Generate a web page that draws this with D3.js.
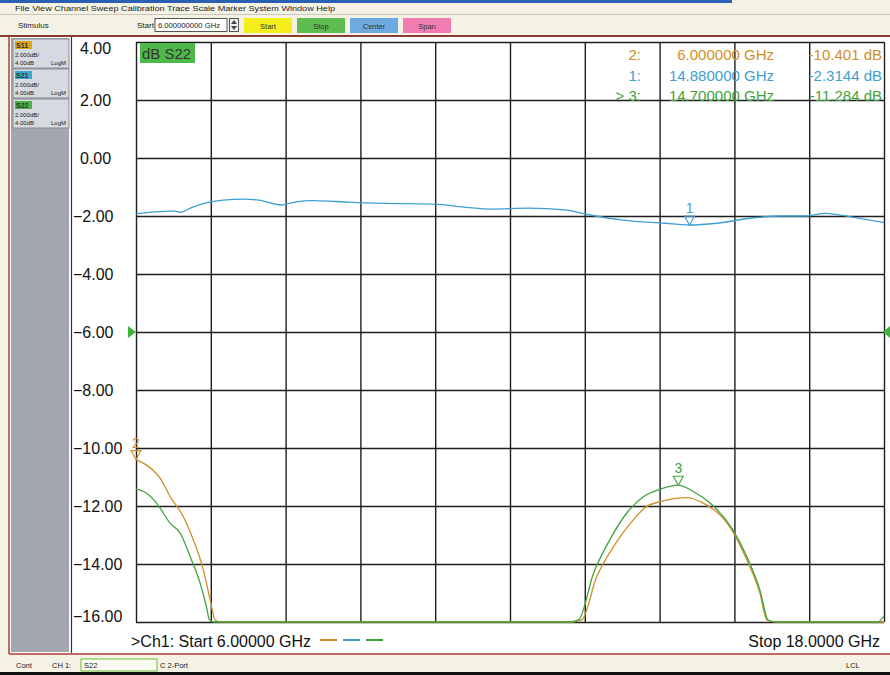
<!DOCTYPE html>
<html>
<head>
<meta charset="utf-8">
<script src="https://cdn.jsdelivr.net/npm/d3@7"></script>
<style>
  body { margin: 0; background: #f4f2e4; }
  svg { display: block; font-family: "Liberation Sans", Arial, sans-serif; }
</style>
</head>
<body>
<svg id="vna" width="890" height="675"></svg>
<script>
// frequency in GHz, level in dB
var s11 = [[6.0,-10.40],[6.17,-10.59],[6.39,-11.05],[6.55,-11.68],[6.76,-12.37],[6.92,-13.17],[7.08,-14.2],[7.19,-15.24],[7.27,-15.93],[7.36,-17.5],[8.5,-21],[10,-22],[12,-21],[13.0,-17.5],[13.15,-15.93],[13.39,-14.44],[13.66,-13.4],[13.93,-12.6],[14.19,-12.02],[14.41,-11.85],[14.83,-11.71],[15.1,-11.9],[15.56,-12.83],[15.8,-13.86],[16.01,-15.01],[16.12,-15.93],[16.25,-17.5],[17,-20],[17.9,-17],[18,-16.2]];
var s21 = [[6.0,-1.93],[6.3,-1.86],[6.63,-1.83],[6.71,-1.87],[6.9,-1.7],[7.14,-1.54],[7.4,-1.45],[7.73,-1.42],[7.97,-1.45],[8.33,-1.62],[8.55,-1.52],[8.82,-1.47],[9.2,-1.5],[9.67,-1.55],[10.2,-1.57],[10.84,-1.6],[11.3,-1.7],[11.7,-1.76],[12.29,-1.73],[12.88,-1.79],[13.22,-1.94],[13.81,-2.14],[14.49,-2.25],[14.88,-2.31],[15.32,-2.25],[15.91,-2.06],[16.35,-2.0],[16.76,-2.0],[17.05,-1.91],[17.3,-1.97],[17.52,-2.05],[18.0,-2.23]];
var s22 = [[6.0,-11.42],[6.17,-11.56],[6.33,-11.9],[6.55,-12.6],[6.71,-12.94],[6.87,-13.75],[7.03,-14.67],[7.13,-15.47],[7.18,-15.93],[7.26,-17.5],[8.5,-21],[10,-22],[12,-21],[12.95,-17.5],[13.1,-15.93],[13.34,-14.32],[13.6,-13.17],[13.87,-12.25],[14.14,-11.68],[14.41,-11.42],[14.7,-11.28],[14.94,-11.5],[15.21,-11.9],[15.56,-12.77],[15.8,-13.75],[16.01,-14.9],[16.14,-15.93],[16.27,-17.5],[17,-20],[17.9,-16.5],[18,-15.8]];

var freqGrid = [6, 7.2, 8.4, 9.6, 10.8, 12, 13.2, 14.4, 15.6, 16.8, 18];
var levelTicks = [4, 2, 0, -2, -4, -6, -8, -10, -12, -14, -16];

var traceNames = ["S11", "S21", "S22"];
var traceColors = ["#cf8f26", "#3c9fd0", "#3fa33c"];
var traceTags = ["#d9a520", "#3aa8c8", "#4cb046"];

var markerNames = ["2", "1", "3"];
var markerTrace = [0, 1, 2];
var markerFreq = [6.0, 14.88, 14.7];
var markerLevel = [-10.401, -2.3144, -11.284];

var menuItems = "File  View  Channel  Sweep  Calibration  Trace  Scale  Marker  System  Window  Help";
var buttons = ["Start", "Stop", "Center", "Span"];
var buttonColors = ["#f3ee1c", "#5fbc52", "#6ea9df", "#f07cb2"];

var svg = d3.select("#vna");

var x = d3.scaleLinear().domain([6, 18]).range([136, 884]);
var y = d3.scaleLinear().domain([-16, 4]).range([622, 42]).clamp(true);

// window chrome
svg.append("rect").attr("width", 890).attr("height", 675).attr("fill", "#f4f2e4");
svg.append("rect").attr("width", 732).attr("height", 3).attr("fill", "#2b5fb4");
svg.append("line").attr("x1", 0).attr("x2", 890).attr("y1", 14.5).attr("y2", 14.5).attr("stroke", "#c9c7b8");
svg.append("text").attr("x", 15).attr("y", 11).attr("font-size", 8).attr("fill", "#222")
	.attr("textLength", 320).attr("lengthAdjust", "spacingAndGlyphs").text(menuItems);

svg.append("text").attr("x", 18).attr("y", 28).attr("font-size", 8).attr("fill", "#222").text("Stimulus");
svg.append("text").attr("x", 137).attr("y", 28).attr("font-size", 8).attr("fill", "#222").text("Start");
svg.append("rect").attr("x", 155).attr("y", 18.5).attr("width", 72).attr("height", 13)
	.attr("fill", "#fff").attr("stroke", "#555");
svg.append("text").attr("x", 158).attr("y", 28).attr("font-size", 8).attr("fill", "#222")
	.attr("textLength", 62).attr("lengthAdjust", "spacingAndGlyphs").text("6.000000000 GHz");
svg.append("rect").attr("x", 229.5).attr("y", 18.5).attr("width", 9).attr("height", 13)
	.attr("fill", "#eee").attr("stroke", "#555");
svg.append("path").attr("d", "M231,24L234,20L237,24ZM231,26L234,30L237,26Z").attr("fill", "#444");

var btn = svg.append("g").selectAll("g").data(buttons).enter().append("g")
	.attr("transform", function(d, i) { return "translate(" + (244 + i * 53) + ",18)"; });
btn.append("rect").attr("width", 48).attr("height", 15)
	.attr("fill", function(d, i) { return buttonColors[i]; });
btn.append("text").attr("x", 24).attr("y", 10.5).attr("text-anchor", "middle")
	.attr("font-size", 7.5).attr("fill", "#333").text(function(d) { return d; });

svg.append("rect").attr("x", 0).attr("y", 35).attr("width", 890).attr("height", 2).attr("fill", "#8a3a32");

// main white area and frame
svg.append("rect").attr("x", 9).attr("y", 37).attr("width", 881).attr("height", 617).attr("fill", "#fff");
svg.append("line").attr("x1", 9).attr("x2", 9).attr("y1", 37).attr("y2", 654).attr("stroke", "#b23a36").attr("stroke-width", 1.5);
svg.append("line").attr("x1", 9).attr("x2", 890).attr("y1", 654).attr("y2", 654).attr("stroke", "#b23a36").attr("stroke-width", 1.5);

// left trace panel
svg.append("rect").attr("x", 11).attr("y", 38).attr("width", 58).attr("height", 614).attr("fill", "#a2a6ae");
svg.append("line").attr("x1", 71.5).attr("x2", 71.5).attr("y1", 37).attr("y2", 653).attr("stroke", "#333").attr("stroke-width", 1.2);

var tag = svg.append("g").selectAll("g").data(traceNames).enter().append("g")
	.attr("transform", function(d, i) { return "translate(13," + (39 + i * 30) + ")"; });
tag.append("rect").attr("width", 56).attr("height", 29).attr("fill", "#d6d9df").attr("stroke", "#8a8d94");
tag.append("rect").attr("x", 2).attr("y", 2).attr("width", 17).attr("height", 8)
	.attr("fill", function(d, i) { return traceTags[i]; });
tag.append("text").attr("x", 3).attr("y", 9).attr("font-size", 7).attr("font-weight", "bold")
	.attr("fill", "#333").text(function(d) { return d; });
tag.append("text").attr("x", 2).attr("y", 18).attr("font-size", 6).attr("fill", "#222").text("2.000dB/");
tag.append("text").attr("x", 2).attr("y", 26).attr("font-size", 6).attr("fill", "#222").text("4.00dB");
tag.append("text").attr("x", 38).attr("y", 26).attr("font-size", 6).attr("fill", "#222").text("LogM");

// grid
svg.append("g").attr("class", "xgrid").attr("transform", "translate(0,622)")
	.call(d3.axisBottom(x).tickValues(freqGrid).tickSize(-580).tickFormat(""))
	.call(function(g) { g.select(".domain").remove(); });
svg.append("g").attr("class", "ygrid").attr("transform", "translate(136,0)")
	.call(d3.axisLeft(y).tickValues(levelTicks).tickSize(-748).tickFormat(""))
	.call(function(g) { g.select(".domain").remove(); });
svg.selectAll(".xgrid line, .ygrid line").attr("stroke", "#1e1e1e").attr("stroke-width", 1.4);

// level labels
svg.append("g").selectAll("text").data(levelTicks).enter().append("text")
	.attr("x", function(d) { return d < 0 ? 73 : 80; })
	.attr("y", function(d) { return Math.min(Math.max(y(d), 48), 616); })
	.attr("dy", "0.36em").attr("font-size", 16).attr("fill", "#111")
	.text(function(d) { return d3.format(".2f")(d); });

// reference level triangles (-6 dB)
svg.append("path").attr("d", "M128," + (y(-6) - 6) + "L136," + y(-6) + "L128," + (y(-6) + 6) + "Z").attr("fill", "#3db53a");
svg.append("path").attr("d", "M890," + (y(-6) - 6) + "L883," + y(-6) + "L890," + (y(-6) + 6) + "Z").attr("fill", "#3db53a");

// traces
var line = d3.line()
	.x(function(d) { return x(d[0]); })
	.y(function(d) { return y(d[1]); })
	.curve(d3.curveMonotoneX);

svg.append("g").selectAll("path").data([s11, s21, s22]).enter().append("path")
	.attr("d", line).attr("fill", "none")
	.attr("stroke", function(d, i) { return traceColors[i]; })
	.attr("stroke-width", 1.3);

// markers
var mk = svg.append("g").selectAll("g").data(markerNames).enter().append("g")
	.attr("transform", function(d, i) { return "translate(" + x(markerFreq[i]) + "," + y(markerLevel[i]) + ")"; });
mk.append("path").attr("d", "M-5,-9L5,-9L0,0Z").attr("fill", "none")
	.attr("stroke", function(d, i) { return traceColors[markerTrace[i]]; }).attr("stroke-width", 1.1);
mk.append("text").attr("y", -12).attr("text-anchor", "middle").attr("font-size", 14)
	.attr("fill", function(d, i) { return traceColors[markerTrace[i]]; })
	.text(function(d) { return d; });

// active trace title
svg.append("rect").attr("x", 140).attr("y", 43).attr("width", 55).attr("height", 20).attr("fill", "#4fb84a");
svg.append("text").attr("x", 142).attr("y", 59).attr("font-size", 15).attr("fill", "#333").text("dB S22");

// marker readout
var rd = svg.append("g").selectAll("g").data(markerNames).enter().append("g")
	.attr("fill", function(d, i) { return traceColors[markerTrace[i]]; })
	.attr("font-size", 15);
rd.append("text").attr("x", 641).attr("y", function(d, i) { return 60 + i * 20.5; })
	.attr("text-anchor", "end").text(function(d, i) { return (i === 2 ? "> " : "") + d + ":"; });
rd.append("text").attr("x", 774).attr("y", function(d, i) { return 60 + i * 20.5; })
	.attr("text-anchor", "end").text(function(d, i) { return markerFreq[i].toFixed(6) + " GHz"; });
rd.append("text").attr("x", 882).attr("y", function(d, i) { return 60 + i * 20.5; })
	.attr("text-anchor", "end").text(function(d, i) { return markerLevel[i] + " dB"; });

// sweep annotation
svg.append("text").attr("x", 131).attr("y", 647).attr("font-size", 16).attr("fill", "#111")
	.text(">Ch1: Start  6.00000 GHz");
svg.append("g").selectAll("line").data(traceColors).enter().append("line")
	.attr("x1", function(d, i) { return 320 + i * 23; })
	.attr("x2", function(d, i) { return 337 + i * 23; })
	.attr("y1", 640).attr("y2", 640)
	.attr("stroke", function(d) { return d; }).attr("stroke-width", 2);
svg.append("text").attr("x", 880).attr("y", 647).attr("text-anchor", "end").attr("font-size", 16)
	.attr("fill", "#111").text("Stop  18.0000 GHz");

// status bar
var sb = svg.append("g").attr("font-size", 7.5).attr("fill", "#222");
sb.append("text").attr("x", 16).attr("y", 668).text("Cont");
sb.append("text").attr("x", 52).attr("y", 668).text("CH 1:");
sb.append("rect").attr("x", 81).attr("y", 659).attr("width", 76).attr("height", 12)
	.attr("fill", "#fafaf0").attr("stroke", "#6cbf3a");
sb.append("text").attr("x", 84).attr("y", 668).text("S22");
sb.append("text").attr("x", 160).attr("y", 668).text("C 2-Port");
sb.append("text").attr("x", 846).attr("y", 668).text("LCL");
svg.append("rect").attr("x", 0).attr("y", 672).attr("width", 890).attr("height", 3).attr("fill", "#111");
</script>
</body>
</html>
